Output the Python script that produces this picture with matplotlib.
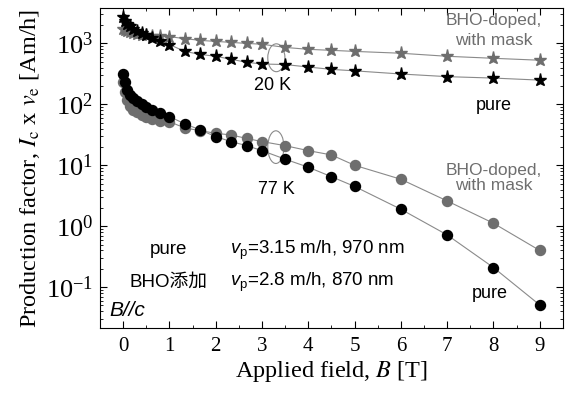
import matplotlib.pyplot as plt
from matplotlib.patches import Ellipse
from matplotlib.ticker import LogLocator, MultipleLocator

plt.rcParams['font.family'] = ['Liberation Serif', 'DejaVu Serif']
plt.rcParams['mathtext.fontset'] = 'stix'
plt.rcParams['mathtext.rm'] = 'Liberation Sans'
plt.rcParams['mathtext.it'] = 'Liberation Sans:italic'

# applied field [T]
field = [0, 0.03, 0.08, 0.15, 0.22, 0.3, 0.4, 0.5, 0.62, 0.8, 1.0, 1.33, 1.67,
         2.0, 2.33, 2.67, 3.0, 3.5, 4, 4.5, 5, 6, 7, 8, 9]

# production factor Ic x ve [Am/h]
pure_20k = [2700, 2350, 2100, 1900, 1750, 1600, 1480, 1380, 1250, 1100, 960, 740,
            660, 615, 550, 490, 460, 450, 410, 375, 355, 315, 285, 270, 250]
bho_20k = [1750, 1680, 1600, 1520, 1460, 1420, 1380, 1350, 1320, 1300, 1290, 1200,
           1120, 1080, 1040, 1000, 970, 860, 800, 770, 740, 690, 615, 570, 530]
pure_77k = [316, 230, 175, 145, 125, 112, 100, 90, 82, 71, 63, 48, 38,
            29.5, 24.5, 21, 17.4, 12.6, 9.3, 6.5, 4.5, 1.9, 0.72, 0.21, 0.051]
bho_77k = [234, 160, 118, 95, 82, 74, 67, 62, 58, 54, 52, 41, 37,
           33.5, 31.5, 27.6, 24.5, 21, 17.4, 14.8, 10, 5.9, 2.6, 1.12, 0.40]

gray = '#6e6e6e'
linec = '#8a8a8a'

fig = plt.figure(figsize=(5.68, 4.05), dpi=100)
ax = fig.add_axes([0.176, 0.189, 0.815, 0.791])

ax.plot(field, bho_20k, color=linec, lw=0.8, marker='*', ms=9.5,
        mfc=gray, mec=gray)
ax.plot(field, pure_20k, color=linec, lw=0.8, marker='*', ms=9.5,
        mfc='black', mec='black')
ax.plot(field, bho_77k, color=linec, lw=0.8, marker='o', ms=7.2,
        mfc=gray, mec=gray)
ax.plot(field, pure_77k, color=linec, lw=0.8, marker='o', ms=7.2,
        mfc='black', mec='black')

ax.set_yscale('log')
ax.set_xlim(-0.5, 9.5)
ax.set_ylim(0.021, 3800)
ax.xaxis.set_major_locator(MultipleLocator(1))
ax.xaxis.set_minor_locator(MultipleLocator(0.5))
ax.yaxis.set_major_locator(LogLocator(base=10, numticks=10))
ax.yaxis.set_minor_locator(LogLocator(base=10, subs=range(2, 10), numticks=10))
ax.tick_params(which='both', direction='in', top=True, right=True)
ax.tick_params(axis='x', labelsize=15, pad=6)
ax.tick_params(axis='y', labelsize=19, pad=5)
ax.tick_params(which='major', length=5)
ax.tick_params(which='minor', length=2.5)

ax.set_xlabel('Applied field, $\\mathit{B}$ [T]', fontsize=17.5, labelpad=2)
ax.set_ylabel('Production factor, $\\mathit{I}_{\\mathrm{c}}$ x $\\mathit{v}_{\\mathrm{e}}$ [Am/h]',
              fontsize=17.5, labelpad=3)

# ellipses marking the two temperature groups
ax.add_patch(Ellipse((0.381, 0.845), 0.037, 0.087, transform=ax.transAxes,
                     fill=False, ec=linec, lw=0.8))
ax.add_patch(Ellipse((0.380, 0.566), 0.035, 0.102, transform=ax.transAxes,
                     fill=False, ec=linec, lw=0.8))

sans = ['Liberation Sans', 'Noto Sans CJK JP']
ax.text(0.372, 0.758, '20 K', transform=ax.transAxes, fontsize=13,
        family=sans, ha='center', va='center')
ax.text(0.38, 0.435, '77 K', transform=ax.transAxes, fontsize=13,
        family=sans, ha='center', va='center')
ax.text(0.85, 0.93, 'BHO-doped,\nwith mask', transform=ax.transAxes,
        fontsize=12.5, family=sans, color=gray, ha='center', va='center',
        linespacing=1.45)
ax.text(0.85, 0.695, 'pure', transform=ax.transAxes, fontsize=13,
        family=sans, ha='center', va='center')
ax.text(0.85, 0.47, 'BHO-doped,\nwith mask', transform=ax.transAxes,
        fontsize=12.5, family=sans, color=gray, ha='center', va='center',
        linespacing=1.0)
ax.text(0.843, 0.11, 'pure', transform=ax.transAxes, fontsize=13,
        family=sans, ha='center', va='center')

ax.text(0.147, 0.245, 'pure', transform=ax.transAxes, fontsize=13.5,
        family=sans, ha='center', va='center')
ax.text(0.28, 0.245, '$\\mathit{v}_{\\mathrm{p}}$=3.15 m/h, 970 nm',
        transform=ax.transAxes, fontsize=13.5, family=sans, va='center',
        math_fontfamily='custom')
ax.text(0.147, 0.145, 'BHO添加', transform=ax.transAxes, fontsize=13.5,
        family=sans, ha='center', va='center')
ax.text(0.28, 0.145, '$\\mathit{v}_{\\mathrm{p}}$=2.8 m/h, 870 nm',
        transform=ax.transAxes, fontsize=13.5, family=sans, va='center',
        math_fontfamily='custom')
ax.text(0.02, 0.055, 'B//c', transform=ax.transAxes, fontsize=15,
        family=sans, style='italic', va='center')

fig.savefig('out.png', dpi=100)
